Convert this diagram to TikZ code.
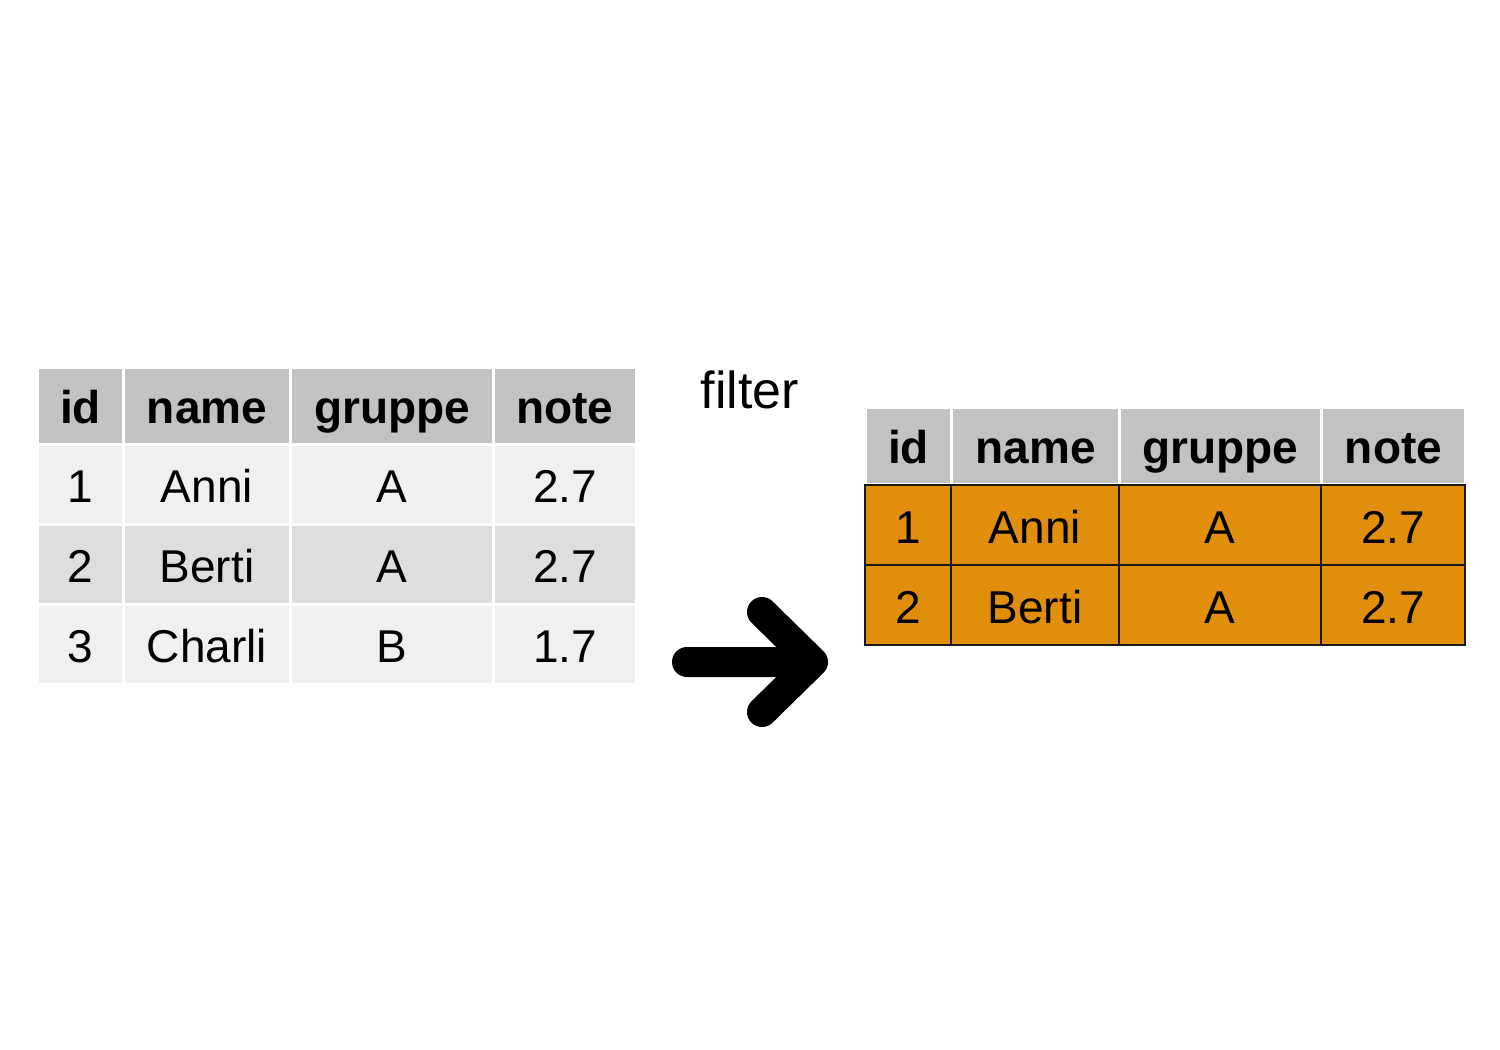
\documentclass[tikz,border=0pt]{standalone}
\usepackage{fontspec}
\setmainfont{Liberation Sans}
\usetikzlibrary{calc}
\definecolor{headgray}{HTML}{C2C2C2}
\definecolor{rowlight}{HTML}{F0F0F0}
\definecolor{rowdark}{HTML}{DEDEDE}
\definecolor{keptorange}{HTML}{E08E0B}
\definecolor{keptline}{HTML}{1A1A1A}

\tikzset{
	cellbox/.style={rectangle, anchor=north west, inner sep=0pt,
		minimum height=40pt, text height=18pt, text depth=0pt,
		font=\fontsize{23}{28}\selectfont},
	headcell/.style={cellbox, fill=headgray, draw=white, line width=1.5pt,
		minimum height=38.5pt, text height=17pt, font=\fontsize{23}{28}\selectfont\bfseries},
	plaincell/.style={cellbox, draw=white, line width=1.5pt},
	keptcell/.style={cellbox, fill=keptorange, draw=keptline, line width=1pt}
}

\begin{document}
\begin{tikzpicture}[x=0.5pt, y=-0.5pt]
	\useasboundingbox[fill=white] (0,0) rectangle (1500,1050);
	% source table
	\foreach \x/\w/\t [count=\c] in {36/86/id, 122/167/name, 289/203/gruppe, 492/143/note}
		\node [headcell, minimum width=\w*0.5pt] (srch\c) at (\x,366) {\t};
	\foreach \x/\w/\t [count=\c] in {36/86/1, 122/167/Anni, 289/203/A, 492/143/2.7}
		\node [plaincell, fill=rowlight, minimum width=\w*0.5pt] (srca\c) at (\x,443) {\t};
	\foreach \x/\w/\t [count=\c] in {36/86/2, 122/167/Berti, 289/203/A, 492/143/2.7}
		\node [plaincell, fill=rowdark, minimum width=\w*0.5pt] (srcb\c) at (\x,523) {\t};
	\foreach \x/\w/\t [count=\c] in {36/86/3, 122/167/Charli, 289/203/B, 492/143/1.7}
		\node [plaincell, fill=rowlight, minimum width=\w*0.5pt] (srcc\c) at (\x,603) {\t};
	% result table
	\foreach \x/\w/\t [count=\c] in {864/86/id, 950/168/name, 1118/202/gruppe, 1320/144/note}
		\node [headcell, minimum width=\w*0.5pt] (resh\c) at (\x,406) {\t};
	\foreach \x/\w/\t [count=\c] in {864/86/1, 950/168/Anni, 1118/202/A, 1320/144/2.7}
		\node [keptcell, minimum width=\w*0.5pt] (resa\c) at (\x,484) {\t};
	\foreach \x/\w/\t [count=\c] in {864/86/2, 950/168/Berti, 1118/202/A, 1320/144/2.7}
		\node [keptcell, minimum width=\w*0.5pt] (resb\c) at (\x,564) {\t};
	% verb and arrow
	\node [font=\fontsize{26}{31}\selectfont] (verb) at (750,390) {filter};
	\coordinate (tail) at (687,662);
	\coordinate (tip) at (813,662);
	\coordinate (barbup) at (762,612);
	\coordinate (barbdown) at (762,712);
	\draw [line width=15pt, line cap=round, line join=round]
		(tail) -- (tip)
		(barbup) -- (tip) -- (barbdown);
\end{tikzpicture}
\end{document}
